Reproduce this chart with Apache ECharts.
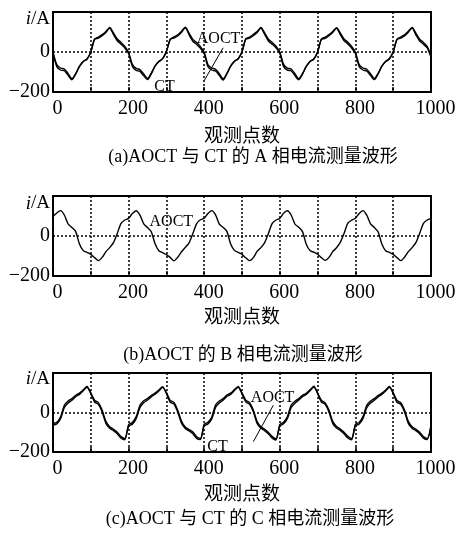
<!DOCTYPE html>
<html>
<head>
<meta charset="utf-8">
<script src="https://cdn.jsdelivr.net/npm/echarts@6/dist/echarts.min.js"></script>
<style>
html,body{margin:0;padding:0;background:#fff;}
#chart{width:462px;height:539px;}
</style>
</head>
<body>
<div id="chart"></div>
<script>
// Observation points (x values, read every 10 points)
const xs = [0,10,20,30,40,50,60,70,80,90,100,110,120,130,140,150,160,170,180,190,
200,210,220,230,240,250,260,270,280,290,300,310,320,330,340,350,360,370,380,390,
400,410,420,430,440,450,460,470,480,490,500,510,520,530,540,550,560,570,580,590,
600,610,620,630,640,650,660,670,680,690,700,710,720,730,740,750,760,770,780,790,
800,810,820,830,840,850,860,870,880,890,900,910,920,930,940,950,960,970,980,990,1000];

// Phase A current, AOCT (A)
const aAOCT = [0,-63,-80,-85,-108,-133,-108,-72,-47,-35,0,65,75,87,103,123,95,65,48,28,
-2,-62,-82,-88,-110,-132,-106,-70,-48,-33,2,64,76,86,104,124,94,63,47,27,
-1,-64,-80,-86,-108,-134,-107,-71,-46,-34,1,66,75,88,102,123,96,64,48,29,
0,-62,-81,-85,-109,-133,-108,-72,-47,-35,0,65,74,87,103,122,95,65,49,28,
-1,-63,-80,-86,-108,-132,-107,-71,-48,-34,1,64,75,86,104,123,94,64,48,28,-20];
// Phase A current, CT (A)
const aCT = [-6,-73,-90,-94,-117,-139,-111,-72,-47,-35,0,63,69,81,98,120,87,56,39,20,
-8,-72,-92,-97,-119,-138,-109,-70,-48,-33,2,62,70,80,99,121,86,54,38,19,
-7,-74,-90,-95,-117,-140,-110,-71,-46,-34,1,64,69,82,97,120,88,55,39,21,
-6,-72,-91,-94,-118,-139,-111,-72,-47,-35,0,63,68,81,98,119,87,56,40,20,
-7,-73,-90,-95,-117,-138,-110,-71,-48,-34,1,62,69,80,99,120,86,55,39,20,-26];
// Phase B current, AOCT (A)
const bAOCT = [97,115,127,105,60,43,22,-40,-73,-82,-92,-108,-123,-107,-78,-58,-33,13,63,80,
88,112,126,104,61,42,21,-39,-74,-83,-93,-107,-124,-106,-79,-57,-34,12,62,81,
89,113,127,106,59,43,23,-40,-72,-82,-92,-109,-123,-108,-77,-58,-33,14,63,80,
88,114,126,105,60,44,22,-41,-73,-81,-91,-108,-122,-107,-78,-59,-32,13,64,79,
89,113,127,104,61,43,21,-40,-74,-82,-92,-108,-123,-106,-78,-58,-33,13,63,80,88];
// Phase C current, AOCT (A)
const cAOCT = [-55,-50,-22,37,58,70,87,98,115,132,95,53,42,3,-55,-80,-92,-108,-130,-138,
-62,-51,-21,36,59,71,86,99,114,131,96,52,43,2,-54,-81,-93,-107,-131,-137,
-60,-50,-23,38,58,70,88,98,116,132,94,54,42,4,-56,-80,-92,-109,-130,-139,
-61,-49,-22,37,57,71,87,97,115,133,95,53,41,3,-55,-79,-91,-108,-129,-138,
-60,-50,-21,36,58,70,86,98,114,132,96,52,42,3,-55,-80,-92,-108,-130,-137,-62];
// Phase C current, CT (A)
const cCT = [-63,-58,-32,25,48,62,80,92,110,128,100,62,50,12,-45,-72,-85,-100,-122,-132,
-70,-59,-31,24,49,63,79,93,109,127,101,61,51,11,-44,-73,-86,-99,-123,-131,
-68,-58,-33,26,48,62,81,92,111,128,99,63,50,13,-46,-72,-85,-101,-122,-133,
-69,-57,-32,25,47,63,80,91,110,129,100,62,49,12,-45,-71,-84,-100,-121,-132,
-68,-58,-31,24,48,62,79,92,109,128,101,61,50,12,-45,-72,-85,-100,-122,-131,-70];

const xTicks = [0,200,400,600,800,1000];
const yTicks = [-200,0];
const xName = '观测点数';
const captions = ['(a)AOCT 与 CT 的 A 相电流测量波形','(b)AOCT 的 B 相电流测量波形','(c)AOCT 与 CT 的 C 相电流测量波形'];

const SERIF = '"Liberation Serif","Times New Roman","Noto Sans CJK SC",serif';
const grids = [
  {left:53, top:12, width:378, height:80},
  {left:53, top:196, width:378, height:80},
  {left:53, top:373, width:378, height:79}
];

function pairs(arr){ return xs.map((x,i)=>[x, arr[i]]); }

function xAxis(i){
  return {
    type:'value', gridIndex:i, min:0, max:1000, interval:100,
    axisLine:{show:true, onZero:false, lineStyle:{color:'#000', width:2}},
    axisTick:{show:true, inside:true, length:5, lineStyle:{color:'#000', width:1.5}},
    axisLabel:{
      formatter: v => xTicks.indexOf(v) >= 0 ? String(v) : '',
      fontFamily:SERIF, fontSize:20, color:'#000', margin:7, padding:[0,0,0,9]
    },
    splitLine:{show:true, lineStyle:{color:'#000', type:[2,2], width:1.5}}
  };
}
function yAxis(i){
  return {
    type:'value', gridIndex:i, min:-200, max:200, interval:200,
    axisLine:{show:true, onZero:false, lineStyle:{color:'#000', width:2}},
    axisTick:{show:false},
    axisLabel:{
      formatter: v => yTicks.indexOf(v) >= 0 ? (v < 0 ? '\u2212' + (-v) : String(v)) : '',
      fontFamily:SERIF, fontSize:20, color:'#000', margin:3, padding:[10,0,0,0]
    },
    splitLine:{show:true, lineStyle:{color:'#000', type:[2,2], width:1.5}}
  };
}
function lineSeries(name, arr, i, extra){
  return Object.assign({
    name:name, type:'line', xAxisIndex:i, yAxisIndex:i, data:pairs(arr),
    showSymbol:false, symbol:'none', smooth:0.25, animation:false,
    lineStyle:{color:'#000', width:1.4}, z:3
  }, extra || {});
}
function textPoint(txt, coord){
  return {coord:coord, symbol:'circle', symbolSize:1,
    itemStyle:{color:'rgba(0,0,0,0)'},
    label:{show:true, position:'inside', formatter:txt, fontFamily:SERIF, fontSize:16, color:'#000'}};
}
function leader(from, to){
  return [{coord:from},{coord:to}];
}

const graphics = [];
const nameY = [137, 318, 495.5];
const capY = [157.5, 355.5, 519.5];
const capX = [253, 243, 250];
const iaY = [19, 203.5, 379];
for (let i=0;i<3;i++){
  graphics.push({type:'text', x:242, y:nameY[i], style:{text:xName, font:'19px '+SERIF, fill:'#000', align:'center', verticalAlign:'middle', textAlign:'center', textVerticalAlign:'middle'}});
  graphics.push({type:'text', x:capX[i], y:capY[i], style:{text:captions[i], font:'18px '+SERIF, fill:'#000', align:'center', verticalAlign:'middle', textAlign:'center', textVerticalAlign:'middle'}});
  graphics.push({type:'text', x:50, y:iaY[i], style:{text:'{it|i}/A', font:'19px '+SERIF, fill:'#000', align:'right', verticalAlign:'middle', textAlign:'right', textVerticalAlign:'middle',
    rich:{it:{fontStyle:'italic', fontFamily:SERIF, fontSize:19, fill:'#000', color:'#000'}}}});
}

const markLineStyle = {symbol:['none','none'], silent:true, label:{show:false}, lineStyle:{color:'#000', width:1, type:'solid'}, animation:false};

const option = {
  animation:false,
  backgroundColor:'#fff',
  grid: grids.map(g => Object.assign({show:true, borderColor:'#000', borderWidth:2, backgroundColor:'transparent'}, g)),
  xAxis:[xAxis(0), xAxis(1), xAxis(2)],
  yAxis:[yAxis(0), yAxis(1), yAxis(2)],
  series:[
    lineSeries('CT', aCT, 0),
    lineSeries('AOCT', aAOCT, 0, {
      markLine:Object.assign({data:[leader([450,21],[400,-143])]}, markLineStyle),
      markPoint:{silent:true, animation:false, data:[textPoint('AOCT',[438,66]), textPoint('CT',[295,-176])]}
    }),
    lineSeries('AOCT', bAOCT, 1, {
      markPoint:{silent:true, animation:false, data:[textPoint('AOCT',[313,71])]}
    }),
    lineSeries('CT', cCT, 2),
    lineSeries('AOCT', cAOCT, 2, {
      markLine:Object.assign({data:[leader([583,37],[530,-148])]}, markLineStyle),
      markPoint:{silent:true, animation:false, data:[textPoint('AOCT',[581,75]), textPoint('CT',[435,-175])]}
    })
  ],
  graphic: graphics
};

const chart = echarts.init(document.getElementById('chart'), null, {renderer:'canvas'});
chart.setOption(option);
</script>
</body>
</html>
